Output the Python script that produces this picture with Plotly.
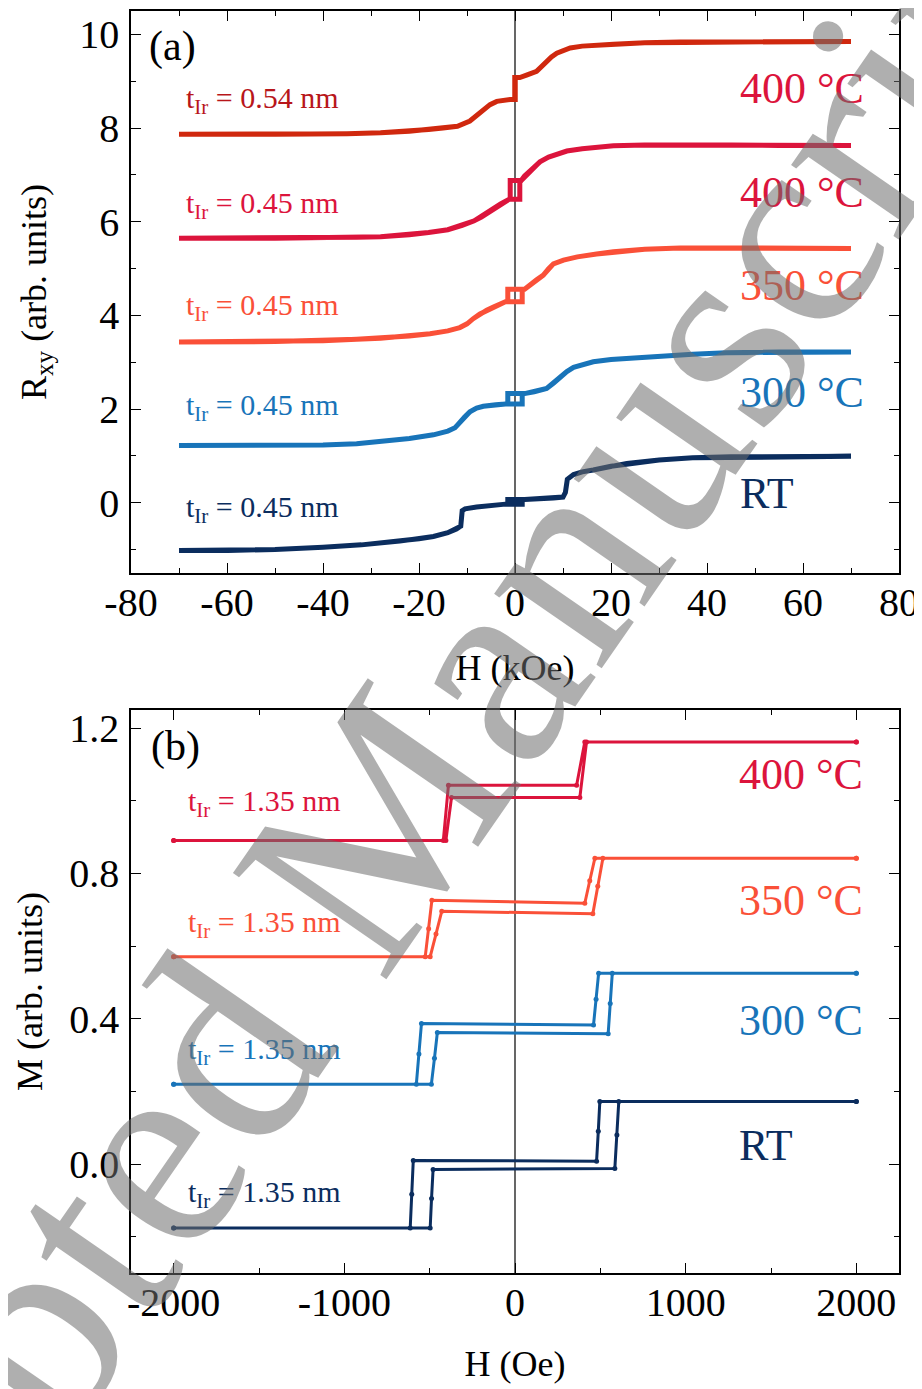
import plotly.graph_objects as go

FONT = "Liberation Serif"

# ---------------- Panel (a): R_xy vs H (kOe) ----------------
# each curve: negative-field side, positive-field side, half-width of the small loop at 0
a1_neg_x = [-70, -50, -35, -28, -22, -18, -15, -12, -9.4, -7.3, -5.2, -3.8, -2.5, -1.0]
a1_neg_y = [7.87, 7.87, 7.88, 7.90, 7.93, 7.97, 8.00, 8.04, 8.15, 8.33, 8.50, 8.57, 8.60, 8.61]
a1_pos_x = [1.0, 2.4, 4.5, 5.5, 6.6, 7.6, 8.7, 10, 11.5, 14, 17, 20.5, 27, 34.4, 45, 55, 70]
a1_pos_y = [9.08, 9.13, 9.21, 9.31, 9.43, 9.52, 9.60, 9.66, 9.71, 9.75, 9.77, 9.79, 9.82, 9.84, 9.85, 9.85, 9.85]
a1_hc = 0.05

a2_neg_x = [-70, -50, -40, -33, -28, -22, -18, -14, -11, -8.5, -7, -5, -3, -1.2]
a2_neg_y = [5.65, 5.65, 5.66, 5.67, 5.68, 5.72, 5.77, 5.83, 5.92, 6.02, 6.10, 6.24, 6.38, 6.48]
a2_pos_x = [1.3, 2, 3.5, 5.2, 7, 9, 10.8, 14, 17, 20.5, 27, 34.4, 45, 55, 70]
a2_pos_y = [6.88, 6.98, 7.12, 7.28, 7.38, 7.46, 7.51, 7.56, 7.60, 7.62, 7.64, 7.65, 7.64, 7.63, 7.63]
a2_hc = 1.0

a3_neg_x = [-70, -50, -40, -33, -28, -22, -17.7, -14, -11.5, -10, -8.7, -7.3, -5.9, -4.5, -3.1, -2]
a3_neg_y = [3.43, 3.44, 3.46, 3.49, 3.51, 3.56, 3.61, 3.67, 3.74, 3.82, 3.93, 4.03, 4.11, 4.18, 4.24, 4.29]
a3_pos_x = [2.0, 3, 4.5, 5.9, 7, 8, 10.1, 13, 17, 20.5, 27, 34.4, 45, 55, 70]
a3_pos_y = [4.56, 4.64, 4.76, 4.86, 5.00, 5.10, 5.18, 5.25, 5.31, 5.36, 5.41, 5.44, 5.44, 5.43, 5.43]
a3_hc = 1.5

a4_neg_x = [-70, -50, -40, -33, -28, -22, -17, -14, -12.5, -11.5, -10.5, -9.4, -8, -6.6, -4, -2]
a4_neg_y = [1.22, 1.22, 1.23, 1.26, 1.30, 1.37, 1.45, 1.53, 1.60, 1.70, 1.83, 1.94, 2.02, 2.06, 2.09, 2.11]
a4_pos_x = [2.0, 4, 6.6, 8, 9.4, 10.8, 12.2, 14, 16.3, 20, 25, 30, 37, 44, 55, 70]
a4_pos_y = [2.33, 2.37, 2.44, 2.55, 2.69, 2.80, 2.89, 2.95, 3.01, 3.06, 3.10, 3.13, 3.17, 3.20, 3.22, 3.22]
a4_hc = 1.5

a5_neg_x = [-70, -60, -50, -40, -32, -24, -20, -17, -14, -12.2, -11.3, -11.0, -10.4, -8, -5, -2]
a5_neg_y = [-1.02, -1.02, -1.00, -0.95, -0.90, -0.82, -0.77, -0.72, -0.64, -0.56, -0.50, -0.17, -0.13, -0.09, -0.05, -0.03]
a5_pos_x = [2.0, 5, 8, 10.0, 10.5, 10.9, 12.2, 14, 16.3, 20, 23.3, 30, 37, 45, 55, 70]
a5_pos_y = [0.07, 0.08, 0.10, 0.12, 0.22, 0.50, 0.60, 0.66, 0.70, 0.78, 0.84, 0.91, 0.96, 0.98, 0.99, 0.99]
a5_hc = 1.5

a_colors = ["#D0280E", "#DC143C", "#FA5038", "#1874B9", "#0B2D5E"]
a_thick_labels = ["t<sub>Ir</sub> = 0.54 nm", "t<sub>Ir</sub> = 0.45 nm", "t<sub>Ir</sub> = 0.45 nm",
                  "t<sub>Ir</sub> = 0.45 nm", "t<sub>Ir</sub> = 0.45 nm"]
a_thick_label_colors = ["#B8161A", "#DC143C", "#FA5038", "#1874B9", "#0B2D5E"]
a_thick_label_y = [8.60, 6.36, 4.19, 2.04, -0.13]
a_temp_labels = ["400 °C", "400 °C", "350 °C", "300 °C", "RT"]
a_temp_label_colors = ["#DC143C", "#DC143C", "#FA5038", "#1874B9", "#0B2D5E"]
a_temp_label_y = [8.85, 6.62, 4.64, 2.36, 0.19]

a_xticks = [-80, -60, -40, -20, 0, 20, 40, 60, 80]
a_xticklabels = ["-80", "-60", "-40", "-20", "0", "20", "40", "60", "80"]
a_yticks = [0, 2, 4, 6, 8, 10]
a_yticklabels = ["0", "2", "4", "6", "8", "10"]

# ---------------- Panel (b): M vs H (Oe) ----------------
b_names = ["400 °C", "350 °C", "300 °C", "RT"]
b400_up_x = [-2000, -405, -372, 380, 419, 2000]
b400_up_y = [0.891, 0.891, 1.009, 1.009, 1.162, 1.162]
b400_dn_x = [2000, 409, 361, -390, -420, -2000]
b400_dn_y = [1.162, 1.162, 1.043, 1.043, 0.891, 0.891]

b350_up_x = [-2000, -497, -463, -429, 456, 485, 515, 2000]
b350_up_y = [0.571, 0.571, 0.633, 0.696, 0.689, 0.765, 0.842, 0.842]
b350_dn_x = [2000, 468, 438, 409, -487, -506, -526, -2000]
b350_dn_y = [0.842, 0.842, 0.780, 0.718, 0.726, 0.648, 0.571, 0.571]

b300_up_x = [-2000, -490, -472, -455, 546, 558, 570, 2000]
b300_up_y = [0.220, 0.220, 0.291, 0.362, 0.359, 0.442, 0.525, 0.525]
b300_dn_x = [2000, 490, 475, 460, -548, -563, -578, -2000]
b300_dn_y = [0.525, 0.525, 0.454, 0.383, 0.387, 0.303, 0.220, 0.220]

bRT_up_x = [-2000, -497, -489, -480, 585, 597, 608, 2000]
bRT_up_y = [-0.176, -0.176, -0.095, -0.015, -0.012, 0.080, 0.172, 0.172]
bRT_dn_x = [2000, 497, 488, 478, -596, -605, -614, -2000]
bRT_dn_y = [0.172, 0.172, 0.090, 0.008, 0.010, -0.083, -0.176, -0.176]

b_colors = ["#DC143C", "#FA5038", "#1874B9", "#0B2D5E"]
b_thick_labels = ["t<sub>Ir</sub> = 1.35 nm"] * 4
b_thick_label_y = [0.993, 0.662, 0.312, -0.083]
b_temp_label_y = [1.073, 0.726, 0.394, 0.050]

b_xticks = [-2000, -1000, 0, 1000, 2000]
b_xticklabels = ["-2000", "-1000", "0", "1000", "2000"]
b_yticks = [0.0, 0.4, 0.8, 1.2]
b_yticklabels = ["0.0", "0.4", "0.8", "1.2"]

watermark = "Accepted Manuscript"

# ------------------------------------------------------------
fig = go.Figure()


def loop_a(nx, ny, px, py, hc):
    up_x = nx + [hc, hc] + px
    up_y = ny + [ny[-1], py[0]] + py
    dn_x = px[::-1] + [-hc, -hc] + nx[::-1]
    dn_y = py[::-1] + [py[0], ny[-1]] + ny[::-1]
    return up_x + dn_x, up_y + dn_y


a_curves = [
    (a1_neg_x, a1_neg_y, a1_pos_x, a1_pos_y, a1_hc),
    (a2_neg_x, a2_neg_y, a2_pos_x, a2_pos_y, a2_hc),
    (a3_neg_x, a3_neg_y, a3_pos_x, a3_pos_y, a3_hc),
    (a4_neg_x, a4_neg_y, a4_pos_x, a4_pos_y, a4_hc),
    (a5_neg_x, a5_neg_y, a5_pos_x, a5_pos_y, a5_hc),
]
for (nx, ny, px, py, hc), col, name in zip(a_curves, a_colors, a_temp_labels):
    xx, yy = loop_a(nx, ny, px, py, hc)
    fig.add_trace(go.Scatter(x=xx, y=yy, mode="lines", line=dict(color=col, width=5),
                             name=name, showlegend=False, xaxis="x", yaxis="y"))

b_curves = [
    (b400_up_x, b400_up_y, b400_dn_x, b400_dn_y),
    (b350_up_x, b350_up_y, b350_dn_x, b350_dn_y),
    (b300_up_x, b300_up_y, b300_dn_x, b300_dn_y),
    (bRT_up_x, bRT_up_y, bRT_dn_x, bRT_dn_y),
]
for (ux, uy, dx, dy), col, name in zip(b_curves, b_colors, b_names):
    fig.add_trace(go.Scatter(x=ux + dx, y=uy + dy, mode="lines+markers",
                             line=dict(color=col, width=3), marker=dict(color=col, size=5),
                             name=name, showlegend=False, xaxis="x2", yaxis="y2"))


def axis_style(tickvals, ticktext, minor_dtick, rng, standoff_lbl, domain=None, anchor=None,
               title=None, standoff=None):
    d = dict(
        range=rng, tickmode="array", tickvals=tickvals, ticktext=ticktext,
        showline=True, linecolor="black", linewidth=1.6, mirror="ticks",
        ticks="inside", ticklen=10, tickwidth=1.4, tickcolor="black",
        minor=dict(ticks="inside", ticklen=5, tickwidth=1.4, tickcolor="black",
                   tickmode="linear", tick0=0, dtick=minor_dtick),
        showgrid=False, zeroline=False, automargin=False,
        tickfont=dict(family=FONT, size=40, color="black"),
        ticklabelstandoff=standoff_lbl,
    )
    if domain is not None:
        d["domain"] = domain
    if anchor is not None:
        d["anchor"] = anchor
    if title is not None:
        d["title"] = dict(text=title, font=dict(family=FONT, size=36, color="black"), standoff=standoff)
    return d


# the page adds an 8 px body margin, so the figure is 8 px smaller and margins are shifted
fig.update_layout(
    width=914, height=1381,
    margin=dict(l=123, r=23, t=3, b=116),
    paper_bgcolor="white", plot_bgcolor="white",
    showlegend=False,
    xaxis=axis_style(a_xticks, a_xticklabels, 10, [-80, 80], -7, domain=[0, 1], anchor="y",
                     title="H (kOe)", standoff=31),
    yaxis=axis_style(a_yticks, a_yticklabels, 1, [-1.5, 10.5], 2, domain=[0.5547, 1], anchor="x",
                     title="R<sub>xy</sub> (arb. units)", standoff=22),
    xaxis2=axis_style(b_xticks, b_xticklabels, 500, [-2250, 2250], -7, domain=[0, 1], anchor="y2",
                      title="H (Oe)", standoff=27),
    yaxis2=axis_style(b_yticks, b_yticklabels, 0.2, [-0.3, 1.25], 2, domain=[0, 0.4461], anchor="x2",
                      title="M (arb. units)", standoff=16),
)

# zero-field lines
fig.add_shape(type="line", xref="x", yref="y domain", x0=0, x1=0, y0=0, y1=1,
              line=dict(color="black", width=1.2), layer="below")
fig.add_shape(type="line", xref="x2", yref="y2 domain", x0=0, x1=0, y0=0, y1=1,
              line=dict(color="black", width=1.2), layer="below")

ann = []
ann.append(dict(x=-76.7, y=9.75, xref="x", yref="y", text="(a)", showarrow=False,
                xanchor="left", yanchor="middle", font=dict(family=FONT, size=42, color="black")))
ann.append(dict(x=-2146, y=1.15, xref="x2", yref="y2", text="(b)", showarrow=False,
                xanchor="left", yanchor="middle", font=dict(family=FONT, size=42, color="black")))
for txt, col, yv in zip(a_thick_labels, a_thick_label_colors, a_thick_label_y):
    ann.append(dict(x=-69, y=yv, xref="x", yref="y", text=txt, showarrow=False,
                    xanchor="left", yanchor="middle", font=dict(family=FONT, size=30, color=col)))
for txt, col, yv in zip(a_temp_labels, a_temp_label_colors, a_temp_label_y):
    ann.append(dict(x=46.5, y=yv, xref="x", yref="y", text=txt, showarrow=False,
                    xanchor="left", yanchor="middle", font=dict(family=FONT, size=44, color=col)))
for txt, col, yv in zip(b_thick_labels, b_colors, b_thick_label_y):
    ann.append(dict(x=-1930, y=yv, xref="x2", yref="y2", text=txt, showarrow=False,
                    xanchor="left", yanchor="middle", font=dict(family=FONT, size=30, color=col)))
for txt, col, yv in zip(b_names, b_colors, b_temp_label_y):
    ann.append(dict(x=1300, y=yv, xref="x2", yref="y2", text=txt, showarrow=False,
                    xanchor="left", yanchor="middle", font=dict(family=FONT, size=44, color=col)))
# watermark
ann.append(dict(x=0.28, y=0.32, xref="paper", yref="paper", text=watermark, showarrow=False,
                textangle=-55.3, xanchor="center", yanchor="middle",
                font=dict(family=FONT, size=285, color="rgba(110,110,110,0.55)")))
fig.update_layout(annotations=ann)

fig.write_html("out.html")
